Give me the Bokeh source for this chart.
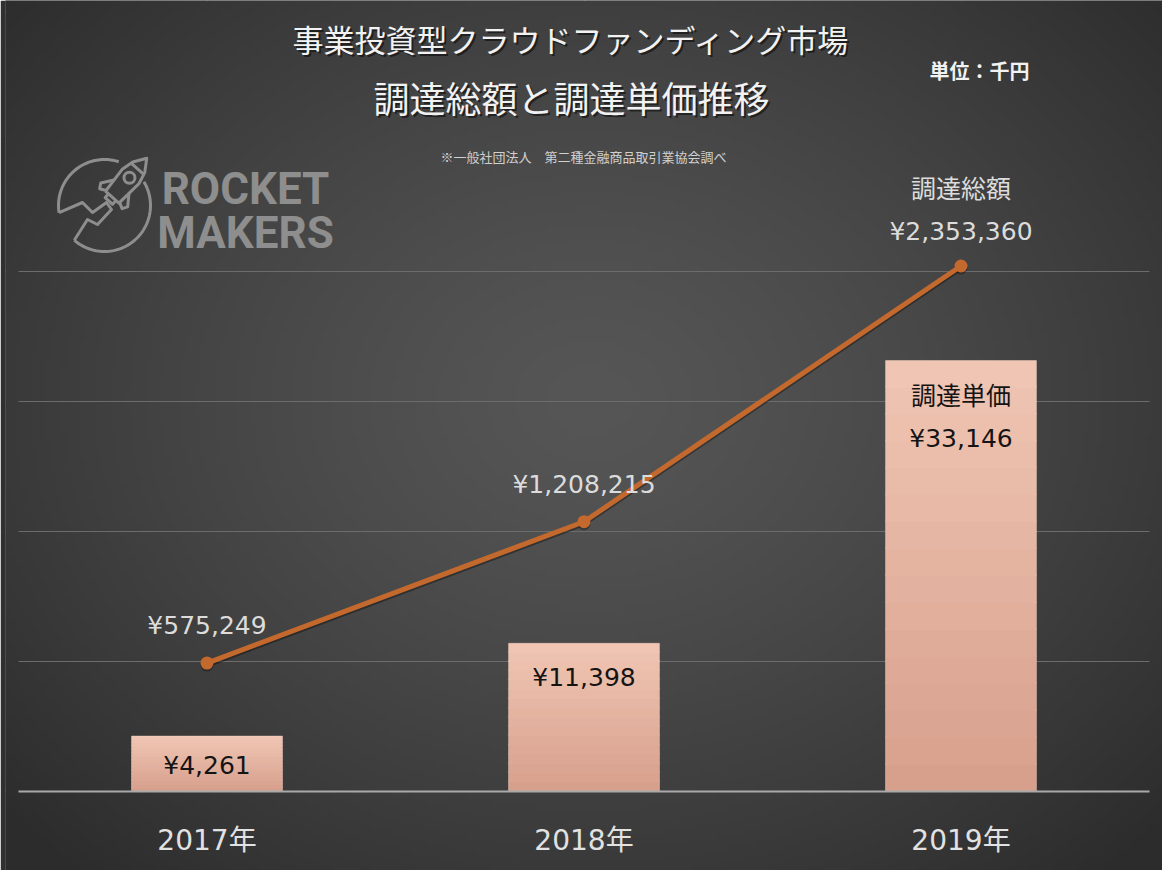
import numpy as np
from bokeh.plotting import figure
from bokeh.models import FactorRange, Range1d
from bokeh.core.properties import value
from bokeh.embed import file_html
from bokeh.resources import INLINE

# ---------------- data ----------------
categories = ["2017年", "2018年", "2019年"]
unit_price = [4261, 11398, 33146]            # 調達単価 (千円)
total_amount = [575249, 1208215, 2353360]    # 調達総額 (千円)
unit_price_labels = ["¥4,261", "¥11,398", "¥33,146"]
total_amount_labels = ["¥575,249", "¥1,208,215", "¥2,353,360"]
series_names = ["調達総額", "調達単価"]
title_lines = ["事業投資型クラウドファンディング市場", "調達総額と調達単価推移"]
unit_note = "単位：千円"
source_note = "※一般社団法人　第二種金融商品取引業協会調べ"
logo_words = ["ROCKET", "MAKERS"]
bar_axis_max = 50000
bar_grid_step = 10000
total_axis_max = 2911000

# ---------------- layout (pixels) ----------------
W, H = 1162, 870
FRAME_L = 5
PLOT_L, PLOT_R, PLOT_T, PLOT_B = 18, 1149, 141, 791

band_px = (PLOT_R - PLOT_L) / len(categories)
pad = (W - PLOT_R) / band_px
bar_per_px = bar_axis_max / (PLOT_B - PLOT_T)
tot_per_px = total_axis_max / (PLOT_B - PLOT_T)


def sx(px):
    """canvas pixel x -> synthetic categorical coordinate"""
    return (px - PLOT_L) / band_px


x_range = FactorRange(factors=categories, range_padding=pad, range_padding_units="absolute")
y_range = Range1d(-(H - PLOT_B) * bar_per_px, bar_axis_max + PLOT_T * bar_per_px)

p = figure(width=W, height=H, x_range=x_range, y_range=y_range,
           x_axis_location=None, y_axis_location=None, toolbar_location=None,
           output_backend="svg", min_border_left=FRAME_L, min_border_right=0,
           min_border_top=0, min_border_bottom=0, border_fill_color="#303030",
           background_fill_color="#303030", outline_line_color=None)

p.extra_y_ranges = {
    "py": Range1d(0, H),
    "total": Range1d(-(H - PLOT_B) * tot_per_px, total_axis_max + PLOT_T * tot_per_px),
    "total_shadow": Range1d(-(H - PLOT_B - 2) * tot_per_px,
                            total_axis_max + (PLOT_T + 2) * tot_per_px),
}

# ---------------- background radial gradient ----------------
ny, nx = 174, 232
gy, gx = np.mgrid[0:ny, 0:nx]
cx = (gx + 0.5) * W / nx
cy = H - (gy + 0.5) * H / ny
r = np.sqrt(((cx - 590) / 700) ** 2 + ((cy - 400) / 560) ** 2)
lum = np.clip(86 - 36 * r ** 1.3, 44, 92).astype(np.uint8)
rgba = np.zeros((ny, nx, 4), dtype=np.uint8)
rgba[..., 0] = lum
rgba[..., 1] = lum
rgba[..., 2] = lum
rgba[..., 3] = 255
img = rgba.view(np.uint32).reshape(ny, nx)
p.image_rgba(image=[img], x=sx(0), y=0, dw=W / band_px, dh=H, y_range_name="py")

# ---------------- grid lines ----------------
grid_vals = list(range(bar_grid_step, bar_axis_max, bar_grid_step))
p.segment(x0=[sx(PLOT_L)] * len(grid_vals), x1=[sx(PLOT_R)] * len(grid_vals),
          y0=grid_vals, y1=grid_vals, line_color="#6c6c6c", line_width=1)

# ---------------- bars (vertical gradient) ----------------
N = 16
top_c = np.array([0xf1, 0xc6, 0xb4])
bot_c = np.array([0xd6, 0x9f, 0x8c])
overlap = 1.5 * bar_per_px
xs, bots, tops, cols = [], [], [], []
for c, v in zip(categories, unit_price):
    for k in range(N):
        t = (k + 0.5) / N
        col = bot_c + (top_c - bot_c) * t
        xs.append(c)
        bots.append(v * k / N)
        tops.append(v * (k + 1) / N + (overlap if k < N - 1 else 0))
        cols.append("#%02x%02x%02x" % tuple(int(round(a)) for a in col))
p.vbar(x=xs, bottom=bots, top=tops, width=0.4, fill_color=cols, line_color=None)
p.vbar(x=categories, top=unit_price, width=0.4, fill_color=None,
       line_color="#f6d3c4", line_alpha=0.5, line_width=1)

# baseline
p.segment(x0=[sx(PLOT_L)], x1=[sx(PLOT_R)], y0=[0], y1=[0],
          line_color="#a9a9a9", line_width=2)

# ---------------- line (total amount) ----------------
p.line(x=categories, y=total_amount, y_range_name="total_shadow",
       line_color="black", line_alpha=0.35, line_width=5)
p.scatter(x=categories, y=total_amount, y_range_name="total_shadow", size=13,
          fill_color="black", fill_alpha=0.3, line_color=None)
p.line(x=categories, y=total_amount, y_range_name="total",
       line_color="#c4692e", line_width=5)
p.scatter(x=categories, y=total_amount, y_range_name="total", size=13,
          fill_color="#c4692e", line_color=None)

NUM_FONT = value("DejaVu Sans, Noto Sans CJK JP")
JP_FONT = value("Noto Sans CJK JP")

# total labels
p.text(x=categories, y=total_amount, text=total_amount_labels, y_range_name="total",
       y_offset=[-38, -37, -35], text_align="center", text_baseline="middle",
       text_font=NUM_FONT, text_font_size="25px", text_color="#dcdcdc")
p.text(x=[categories[-1]], y=[total_amount[-1]], text=[series_names[0]],
       y_range_name="total", y_offset=-79, text_align="center",
       text_baseline="middle", text_font=JP_FONT, text_font_size="25px",
       text_color="#dcdcdc")

# bar labels
p.text(x=categories, y=unit_price, text=unit_price_labels,
       y_offset=[29, 34, 78], text_align="center", text_baseline="middle",
       text_font=NUM_FONT, text_font_size="25px", text_color="#141414")
p.text(x=[categories[-1]], y=[unit_price[-1]], text=[series_names[1]],
       y_offset=33, text_align="center", text_baseline="middle",
       text_font=JP_FONT, text_font_size="25px", text_color="#141414")

# category labels
p.text(x=categories, y=[0] * len(categories), text=categories, y_offset=49,
       text_align="center", text_baseline="middle", text_font=NUM_FONT,
       text_font_size="28px", text_color="#e2e2e2")


# ---------------- titles & notes ----------------
def ptext(x, y, s, size, color, font, bold=False, alpha=1.0, align="center"):
    p.text(x=[sx(x)], y=[H - y], text=[s], y_range_name="py",
           text_align=align, text_baseline="middle", text_font=font,
           text_font_size=f"{size}px", text_color=color, text_alpha=alpha,
           text_font_style="bold" if bold else "normal")


for (tx, ty, ts, tsz) in [(571, 38, title_lines[0], 31), (571, 96, title_lines[1], 36)]:
    ptext(tx + 2, ty + 2, ts, tsz, "#000000", JP_FONT, alpha=0.5)
    ptext(tx, ty, ts, tsz, "#f2f2f2", JP_FONT)

ptext(979, 70, unit_note, 20, "#f2f2f2", JP_FONT, bold=True)
ptext(583, 156, source_note, 13, "#d0d0d0", JP_FONT)

# ---------------- logo ----------------
LOGO = "#8e8e8e"
lcx, lcy, lr = 104, 205, 46
lines_x, lines_y = [], []
for a0, a1 in [(-31, 131), (171, 288)]:
    a = np.radians(np.linspace(a0, a1, 60))
    lines_x.append([sx(v) for v in lcx + lr * np.cos(a)])
    lines_y.append(list(H - (lcy + lr * np.sin(a))))

base = np.array([111.7, 196.7])
d = np.array([0.664, -0.748])
n = np.array([0.748, 0.664])


def loc(pts):
    out = [base + u * d + v * n for u, v in pts]
    return [sx(q[0]) for q in out], [H - q[1] for q in out]


shapes = [
    [(0, -9), (28, -11), (40, -8), (52, 0), (40, 8), (28, 11), (0, 9), (0, -9)],
    [(38, -8), (38, 8)],
    [(14, -10), (3, -18), (-2, -15), (1, -9)],
    [(14, 10), (3, 18), (-2, 15), (1, 9)],
    [(0, -5), (-5, -5), (-5, 5), (0, 5)],
]
for sh in shapes:
    xx, yy = loc(sh)
    lines_x.append(xx)
    lines_y.append(yy)

bolt = [(58.6, 212.2), (82, 202), (92, 212), (106, 202), (111, 209),
        (97, 224), (87, 219), (73.8, 239.7)]
lines_x.append([sx(q[0]) for q in bolt])
lines_y.append([H - q[1] for q in bolt])

p.multi_line(xs=lines_x, ys=lines_y, y_range_name="py",
             line_color=LOGO, line_width=3, line_join="round")
pc = base + 26 * d
p.scatter(x=[sx(pc[0])], y=[H - pc[1]], size=11, y_range_name="py",
          fill_color=None, line_color=LOGO, line_width=3)

ptext(245, 188, logo_words[0], 44, LOGO, value("Roboto"), bold=True)
ptext(245, 232, logo_words[1], 44, LOGO, value("Roboto"), bold=True)

open("out.html", "w").write(file_html(p, INLINE))
